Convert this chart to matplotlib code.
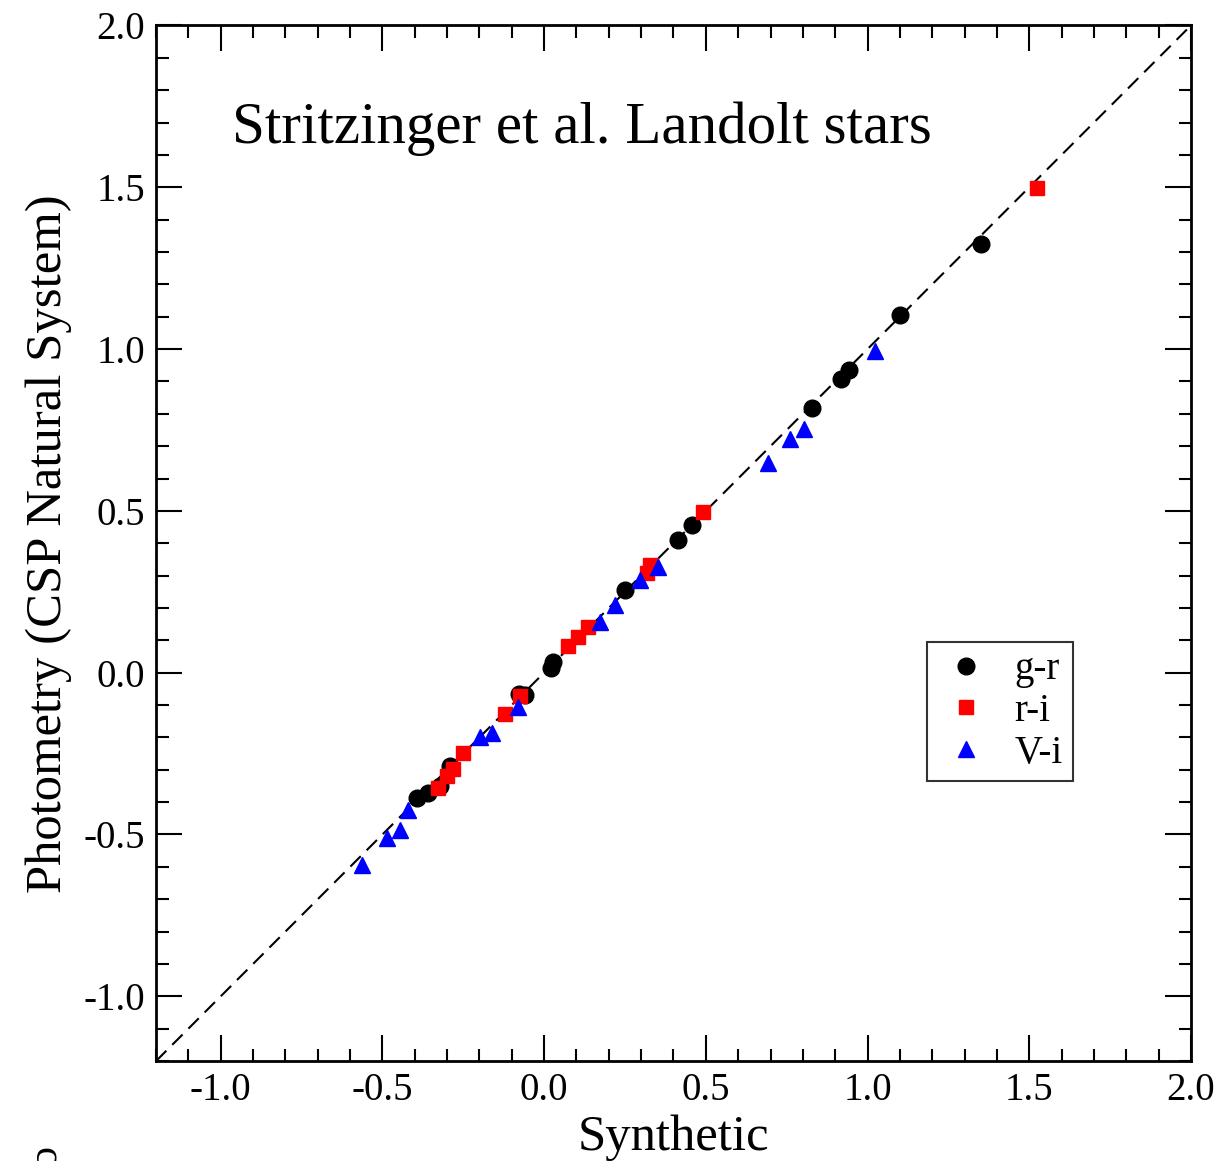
import matplotlib
matplotlib.use("Agg")
import matplotlib.pyplot as plt
import numpy as np
from matplotlib.ticker import MultipleLocator

plt.rcParams['font.family'] = ['Liberation Serif', 'DejaVu Serif']
plt.rcParams['mathtext.fontset'] = 'stix'

# synthetic vs. observed colours
gr_syn = [1.351, 1.100, 0.942, 0.918, 0.828, 0.457, 0.414, 0.250, 0.027, 0.021,
          -0.060, -0.078, -0.292, -0.323, -0.360, -0.394]
gr_obs = [1.325, 1.106, 0.936, 0.908, 0.819, 0.455, 0.409, 0.255, 0.033, 0.014,
          -0.069, -0.066, -0.288, -0.350, -0.371, -0.387]

ri_syn = [1.524, 0.491, 0.327, 0.318, 0.135, 0.104, 0.073, -0.122, -0.075,
          -0.251, -0.282, -0.301, -0.329]
ri_obs = [1.497, 0.498, 0.332, 0.307, 0.141, 0.110, 0.082, -0.128, -0.072,
          -0.248, -0.297, -0.319, -0.356]

vi_syn = [1.023, 0.803, 0.760, 0.692, 0.352, 0.296, 0.219, 0.172, -0.081,
          -0.162, -0.199, -0.422, -0.446, -0.487, -0.564]
vi_obs = [0.995, 0.754, 0.723, 0.649, 0.326, 0.286, 0.208, 0.156, -0.106,
          -0.186, -0.199, -0.424, -0.485, -0.510, -0.593]

lim = [-1.2, 2.0]

fig = plt.figure(figsize=(12.19, 11.61), dpi=100)
ax = fig.add_axes([0.128, 0.0861, 0.849, 0.892])

ax.plot(lim, lim, ls=(0, (7, 4)), color='black', lw=1.5, zorder=1)
ax.plot(gr_syn, gr_obs, 'o', color='black', ms=12, ls='none', label='g-r', zorder=3)
ax.plot(ri_syn, ri_obs, 's', color='red', ms=10, ls='none', label='r-i', zorder=3)
ax.plot(vi_syn, vi_obs, '^', color='blue', ms=11, ls='none', label='V-i', zorder=3)

ax.set_xlim(lim)
ax.set_ylim(lim)
ax.xaxis.set_major_locator(MultipleLocator(0.5))
ax.yaxis.set_major_locator(MultipleLocator(0.5))
ax.xaxis.set_minor_locator(MultipleLocator(0.1))
ax.yaxis.set_minor_locator(MultipleLocator(0.1))
ax.xaxis.set_major_formatter(plt.FuncFormatter(lambda v, p: '%.1f' % v))
ax.yaxis.set_major_formatter(plt.FuncFormatter(lambda v, p: '%.1f' % v))
ax.tick_params(which='both', direction='in', top=True, right=True,
               labelsize=28, width=1.5, pad=8)
ax.tick_params(which='major', length=19)
ax.tick_params(which='minor', length=9)
for s in ax.spines.values():
    s.set_linewidth(2)

ax.set_xlabel('Synthetic', fontsize=36.5, labelpad=4)
ax.set_ylabel('Photometry (CSP Natural System)', fontsize=36.5, labelpad=8)

ax.text(0.073, 0.900, 'Stritzinger et al. Landolt stars', transform=ax.transAxes,
        fontsize=42.5, ha='left', va='center')

leg = ax.legend(loc='upper left', bbox_to_anchor=(0.745, 0.405), fontsize=28,
                frameon=True, fancybox=False, edgecolor='black',
                handletextpad=0.5, borderpad=0.25, labelspacing=0.12,
                markerscale=1.0, handlelength=1.5, borderaxespad=0)
leg.get_frame().set_linewidth(1.5)

fig.text(0.037, 0.004, 'c', fontsize=30, rotation=-90, ha='center', va='center')

fig.savefig('out.png', dpi=100)
